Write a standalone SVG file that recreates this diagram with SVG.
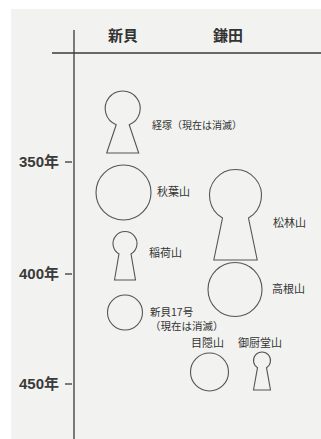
<svg xmlns="http://www.w3.org/2000/svg" width="321" height="439" viewBox="0 0 321 439">
<style>
.ax{stroke:#3a3a3a;stroke-width:1.3;fill:none}
.sh{stroke:#555;stroke-width:1.1;fill:none}
.hd{font-family:"Noto Sans CJK JP",sans-serif;font-size:15px;font-weight:bold;fill:#333}
.yr{font-family:"Liberation Sans","Noto Sans CJK JP",sans-serif;font-size:15px;font-weight:bold;fill:#3a3a3a}
.lb{font-family:"Noto Sans CJK JP",sans-serif;font-size:11px;fill:#333}
.sm{font-family:"Noto Sans CJK JP",sans-serif;font-size:10px;fill:#333}
.s2{font-family:"Noto Sans CJK JP",sans-serif;font-size:10.5px;fill:#333}
</style>
<rect width="321" height="439" fill="#ffffff"/>
<rect x="11" y="9" width="310" height="430" fill="#f2f2f0"/>
<g id="axes">
<line class="ax" x1="74" y1="30" x2="74" y2="439"/>
<line class="ax" x1="52" y1="53" x2="321" y2="53"/>
<line class="ax" x1="65" y1="162" x2="72" y2="162"/>
<line class="ax" x1="65" y1="274" x2="72" y2="274"/>
<line class="ax" x1="65" y1="384" x2="72" y2="384"/>
</g>
<g id="headers">
<text class="hd" x="123" y="41" text-anchor="middle">新貝</text>
<text class="hd" x="228" y="41" text-anchor="middle">鎌田</text>
</g>
<g id="years">
<text class="yr" x="59" y="167" text-anchor="end">350年</text>
<text class="yr" x="59" y="279" text-anchor="end">400年</text>
<text class="yr" x="59" y="389" text-anchor="end">450年</text>
</g>
<g id="kyozuka">
<path class="sh" d="M106.7,153 L116.2,124.8 A17.5,17.5 0 1 1 129.2,124.8 L138.7,153 Z"/>
<text class="sm" x="152" y="129">経塚（現在は消滅）</text>
</g>
<g id="akibayama">
<circle class="sh" cx="123.5" cy="192.5" r="27.5"/>
<text class="lb" x="157" y="196">秋葉山</text>
</g>
<g id="shorinzan">
<path class="sh" d="M213.8,260 L222.5,218 A26,26 0 1 1 248.5,218 L257.2,260 Z"/>
<text class="lb" x="273" y="227">松林山</text>
</g>
<g id="inariyama">
<path class="sh" d="M114.5,280 L119,253.9 A12,12 0 1 1 131,253.9 L135.5,280 Z"/>
<text class="lb" x="149" y="257">稲荷山</text>
</g>
<g id="takaneyama">
<circle class="sh" cx="235" cy="289.5" r="27"/>
<text class="lb" x="272" y="293">高根山</text>
</g>
<g id="shingai17">
<circle class="sh" cx="125" cy="312.5" r="17.5"/>
<text class="s2" x="150" y="315.5">新貝17号</text>
<text class="s2" x="150" y="330">（現在は消滅）</text>
</g>
<g id="mekakushiyama">
<circle class="sh" cx="209.5" cy="372" r="19"/>
<text class="lb" x="191" y="347">目隠山</text>
</g>
<g id="mikuriyadoyama">
<path class="sh" d="M253.5,390 L257.5,367.7 A8.5,8.5 0 1 1 266.5,367.7 L270.5,390 Z"/>
<text class="lb" x="238" y="347">御厨堂山</text>
</g>
</svg>
